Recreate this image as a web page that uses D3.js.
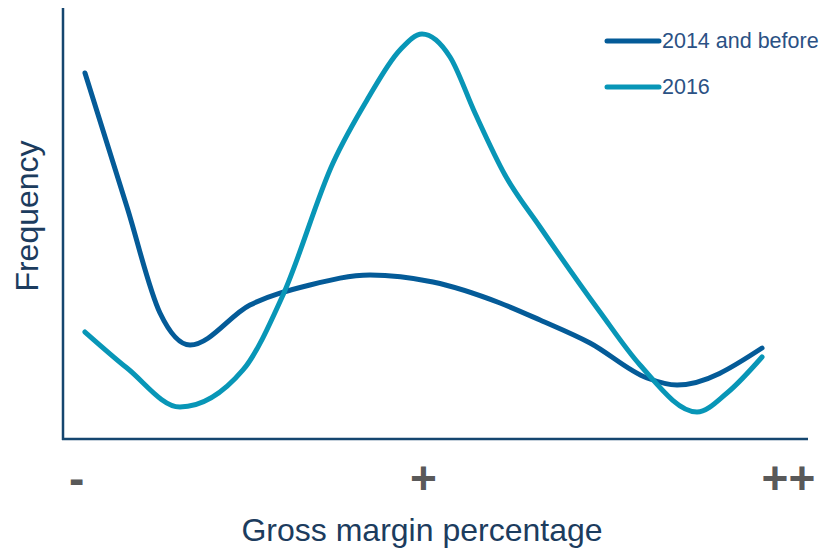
<!DOCTYPE html>
<html>
<head>
<meta charset="utf-8">
<script src="https://cdn.jsdelivr.net/npm/d3@7/dist/d3.min.js"></script>
<style>
  html, body { margin: 0; padding: 0; background: #ffffff; }
  svg { display: block; font-family: Arial, "Liberation Sans", sans-serif; }
</style>
</head>
<body>
<svg id="chart" width="819" height="550"></svg>
<script>
// ---- Data ----
const seriesNames = ["2014 and before", "2016"];
const seriesColors = ["#045b98", "#0896b7"];

// x: relative position along gross margin axis (0-100), y: relative frequency (0-100)
const before2014X = [2.95, 8.59, 13.02, 17.05, 25.10, 33.15, 41.21, 49.66, 58.66, 64.03, 70.74, 78.39, 82.42, 93.83];
const before2014Y = [85.12, 53.95, 29.30, 21.86, 31.16, 35.81, 38.14, 36.51, 31.63, 27.67, 22.33, 14.19, 12.56, 21.16];

const y2016X = [2.95, 8.59, 15.70, 24.16, 29.53, 36.24, 40.81, 45.23, 48.19, 51.95, 55.30, 59.33, 64.03, 72.08, 77.45, 85.10, 89.13, 93.83];
const y2016Y = [24.88, 16.51, 7.44, 16.05, 33.49, 64.19, 78.84, 90.47, 94.19, 88.84, 75.81, 61.40, 49.30, 29.53, 17.21, 6.28, 10.70, 19.07];

const tickValues = [1.75, 48.3, 97.3];
const tickLabels = ["-", "+", "++"];
const xTitle = "Gross margin percentage";
const yTitle = "Frequency";

// ---- Scales ----
const svg = d3.select("#chart");
const x = d3.scaleLinear().domain([0, 100]).range([63, 808]);
const y = d3.scaleLinear().domain([0, 100]).range([439, 9]);

const series = [
  { name: seriesNames[0], color: seriesColors[0], pts: before2014X.map((v, i) => [v, before2014Y[i]]) },
  { name: seriesNames[1], color: seriesColors[1], pts: y2016X.map((v, i) => [v, y2016Y[i]]) }
];

const line = d3.line()
  .x(d => x(d[0]))
  .y(d => y(d[1]))
  .curve(d3.curveMonotoneX);

// ---- Axes lines ----
const axisColor = "#15466f";
svg.append("line")
  .attr("x1", x(0)).attr("x2", x(0))
  .attr("y1", 8).attr("y2", y(0) + 1)
  .attr("stroke", axisColor).attr("stroke-width", 2.5);
svg.append("line")
  .attr("x1", x(0) - 1).attr("x2", x(100))
  .attr("y1", y(0)).attr("y2", y(0))
  .attr("stroke", axisColor).attr("stroke-width", 2.5);

// ---- Curves ----
svg.selectAll("path.series")
  .data(series)
  .enter().append("path")
  .attr("class", "series")
  .attr("d", d => line(d.pts))
  .attr("fill", "none")
  .attr("stroke", d => d.color)
  .attr("stroke-width", 5)
  .attr("stroke-linecap", "round")
  .attr("stroke-linejoin", "round");

// ---- X tick labels ----
const xAxis = d3.axisBottom(x)
  .tickValues(tickValues)
  .tickFormat((d, i) => tickLabels[i])
  .tickSize(0);
const gx = svg.append("g").call(xAxis);
gx.select(".domain").remove();
gx.selectAll("text")
  .attr("y", 494)
  .attr("dy", null)
  .attr("fill", "#595959")
  .attr("font-size", 46)
  .attr("font-weight", "bold")
  .attr("font-family", "Arial, 'Liberation Sans', sans-serif");

// ---- Axis titles ----
svg.append("text")
  .attr("x", 422).attr("y", 541)
  .attr("text-anchor", "middle")
  .attr("font-size", 32)
  .attr("fill", "#1c3c5e")
  .text(xTitle);

svg.append("text")
  .attr("transform", "translate(38,216) rotate(-90)")
  .attr("text-anchor", "middle")
  .attr("font-size", 32)
  .attr("fill", "#1c3c5e")
  .text(yTitle);

// ---- Legend ----
const legendY = [41, 87];
const lg = svg.selectAll("g.legend")
  .data(series)
  .enter().append("g")
  .attr("class", "legend")
  .attr("transform", (d, i) => `translate(0,${legendY[i]})`);
lg.append("line")
  .attr("x1", 607).attr("x2", 659)
  .attr("y1", 0).attr("y2", 0)
  .attr("stroke", d => d.color)
  .attr("stroke-width", 5)
  .attr("stroke-linecap", "round");
lg.append("text")
  .attr("x", 662).attr("y", 7)
  .attr("font-size", 21.5)
  .attr("fill", "#2b5184")
  .text(d => d.name);
</script>
</body>
</html>
